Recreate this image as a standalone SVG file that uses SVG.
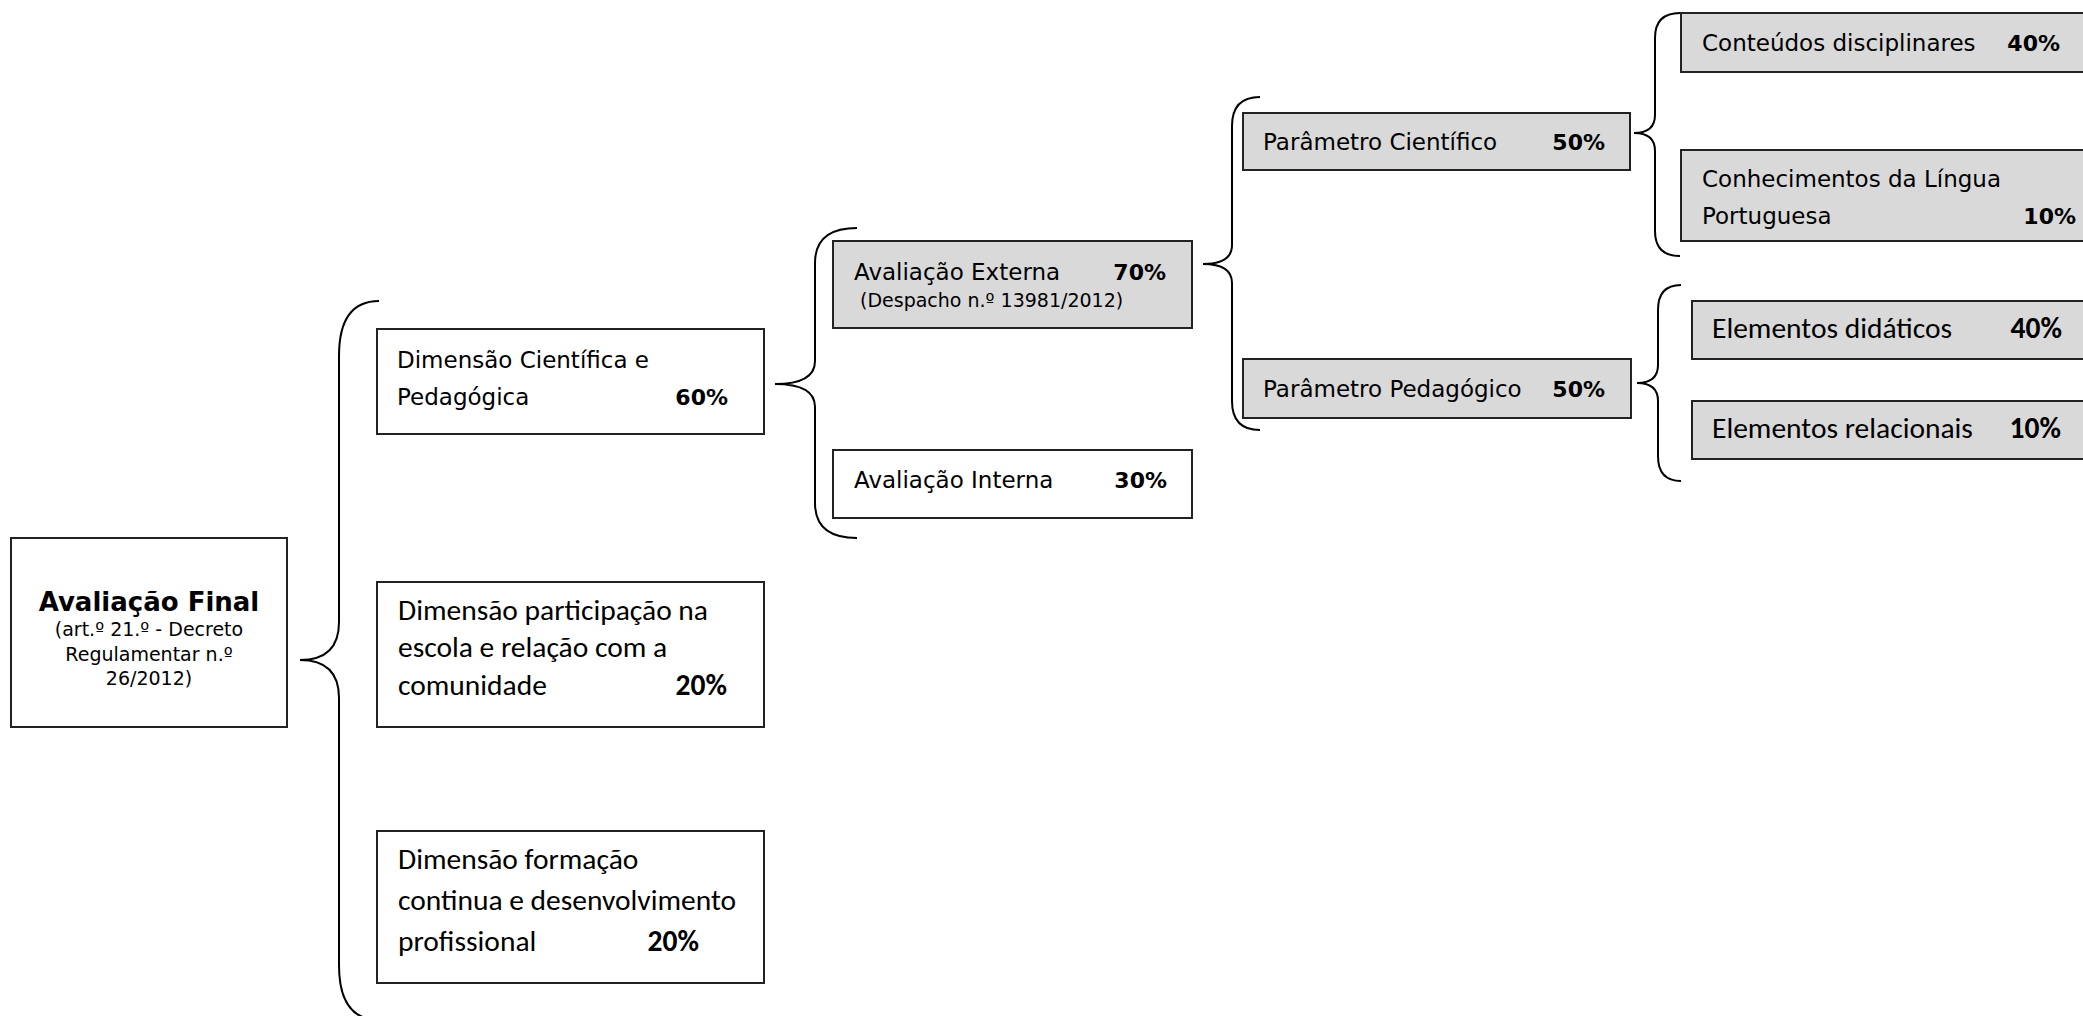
<svg xmlns="http://www.w3.org/2000/svg" width="2083" height="1016" viewBox="0 0 2083 1016">
<style>
.box{fill:#fff;stroke:#222;stroke-width:2}
.gray{fill:#d9d9d9;stroke:#222;stroke-width:2}
.t{font-family:"DejaVu Sans",Verdana,sans-serif;font-size:23px;fill:#000}
.s{font-family:"DejaVu Sans",Verdana,sans-serif;font-size:19px;fill:#000}
.c{font-family:Carlito,Lato,"Liberation Sans",sans-serif;font-size:29.5px;fill:#000}
.b{font-weight:bold}
.p{font-size:22px}
.e{text-anchor:end}
.m{text-anchor:middle}
.br{fill:none;stroke:#000;stroke-width:2}
</style>
<g id="connectors">
<path class="br" d="M379 301 Q339 301 339 356 L339 622 Q339 660 300 660 Q339 660 339 698 L339 965 Q339 1020 379 1020"/>
<path class="br" d="M857 228 Q815 228 815 263 L815 361 Q815 384 775 384 Q815 384 815 407 L815 503 Q815 538 857 538"/>
<path class="br" d="M1260 97 Q1232 97 1232 126 L1232 245 Q1232 264 1203 264 Q1232 264 1232 283 L1232 401 Q1232 430 1260 430"/>
<path class="br" d="M1680 13 Q1655 13 1655 38 L1655 115 Q1655 133 1634 133 Q1655 133 1655 151 L1655 231 Q1655 256 1680 256"/>
<path class="br" d="M1681 285 Q1658 285 1658 310 L1658 365 Q1658 383 1637 383 Q1658 383 1658 401 L1658 456 Q1658 481 1681 481"/>
</g>
<g id="avaliacao-final">
<rect class="box" x="11" y="538" width="276" height="189"/>
<text class="t b m" x="149" y="611" style="font-size:26px">Avaliação Final</text>
<text class="s m" x="149" y="636">(art.º 21.º - Decreto</text>
<text class="s m" x="149" y="661">Regulamentar n.º</text>
<text class="s m" x="149" y="685">26/2012)</text>
</g>
<g id="dim-cientifica">
<rect class="box" x="377" y="329" width="387" height="105"/>
<text class="t" x="397" y="368">Dimensão Científica e</text>
<text class="t" x="397" y="405">Pedagógica</text>
<text class="t b e p" x="728" y="405">60%</text>
</g>
<g id="dim-participacao">
<rect class="box" x="377" y="582" width="387" height="145"/>
<text class="c" x="398" y="620">Dimensão participação na</text>
<text class="c" x="398" y="657">escola e relação com a</text>
<text class="c" x="398" y="695">comunidade</text>
<text class="c b e" x="727" y="695">20%</text>
</g>
<g id="dim-formacao">
<rect class="box" x="377" y="831" width="387" height="152"/>
<text class="c" x="398" y="869">Dimensão formação</text>
<text class="c" x="398" y="910">continua e desenvolvimento</text>
<text class="c" x="398" y="951">profissional</text>
<text class="c b e" x="699" y="951">20%</text>
</g>
<g id="av-externa">
<rect class="gray" x="833" y="241" width="359" height="87"/>
<text class="t" x="854" y="280">Avaliação Externa</text>
<text class="t b e p" x="1166" y="280">70%</text>
<text class="s" x="860" y="307">(Despacho n.º 13981/2012)</text>
</g>
<g id="av-interna">
<rect class="box" x="833" y="450" width="359" height="68"/>
<text class="t" x="854" y="488">Avaliação Interna</text>
<text class="t b e p" x="1167" y="488">30%</text>
</g>
<g id="param-cientifico">
<rect class="gray" x="1243" y="113" width="387" height="57"/>
<text class="t" x="1263" y="150">Parâmetro Científico</text>
<text class="t b e p" x="1605" y="150">50%</text>
</g>
<g id="param-pedagogico">
<rect class="gray" x="1243" y="359" width="388" height="59"/>
<text class="t" x="1263" y="397">Parâmetro Pedagógico</text>
<text class="t b e p" x="1605" y="397">50%</text>
</g>
<g id="conteudos">
<rect class="gray" x="1681" y="13" width="420" height="59"/>
<text class="t" x="1702" y="51">Conteúdos disciplinares</text>
<text class="t b e p" x="2060" y="51">40%</text>
</g>
<g id="conhecimentos">
<rect class="gray" x="1681" y="150" width="420" height="91"/>
<text class="t" x="1702" y="187">Conhecimentos da Língua</text>
<text class="t" x="1702" y="224">Portuguesa</text>
<text class="t b e p" x="2076" y="224">10%</text>
</g>
<g id="elem-didaticos">
<rect class="gray" x="1692" y="301" width="410" height="58"/>
<text class="c" x="1712" y="338">Elementos didáticos</text>
<text class="c b e" x="2062" y="338">40%</text>
</g>
<g id="elem-relacionais">
<rect class="gray" x="1692" y="401" width="410" height="58"/>
<text class="c" x="1712" y="438">Elementos relacionais</text>
<text class="c b e" x="2061" y="438">10%</text>
</g>
</svg>
